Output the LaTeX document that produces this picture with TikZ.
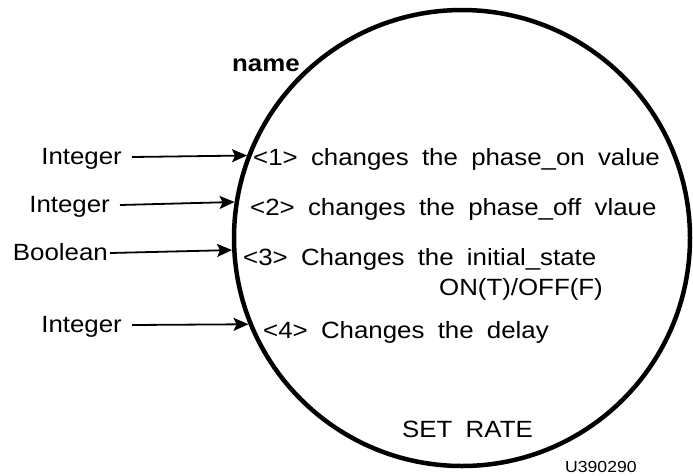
\documentclass[tikz,border=0pt]{standalone}
\usepackage{fontspec}
\setmainfont[FakeStretch=1.1,WordSpace=1.85]{Liberation Sans}
\newfontfamily\namefont[FakeStretch=1.1]{Liberation Sans Bold}
\usetikzlibrary{arrows.meta}
\begin{document}
\begin{tikzpicture}[x=1pt,y=-1pt,
  txt/.style={inner sep=0pt, anchor=base west, font=\fontsize{23.5}{27}\selectfont},
  lbl/.style={anchor=east, inner xsep=10pt, inner ysep=0pt, text height=14pt, text depth=0pt, font=\fontsize{23.5}{27}\selectfont},
  inarrow/.style={line width=1.8pt, -{Stealth[length=15pt,width=13pt,inset=3pt]}}]
\useasboundingbox (0,0) rectangle (693,475);
\node[draw, circle, line width=4.5pt, minimum size=456pt, inner sep=0pt] (c) at (462,238) {};
\node[txt, font=\fontsize{23.5}{27}\namefont] (name) at (232,71) {name};
\node[txt] (t1) at (253,165) {<1> changes the phase\_on value};
\node[txt] (t2) at (250,215) {<2> changes the phase\_off vlaue};
\node[txt] (t3) at (243,265) {<3> Changes the initial\_state};
\node[txt, anchor=base east] (t3b) at (603,295) {ON(T)/OFF(F)};
\node[txt] (t4) at (263,338) {<4> Changes the delay};
\node[txt] (sr) at (402,437) {SET RATE};
\node[txt, font=\fontsize{16}{19}\selectfont] (id) at (565,472) {U390290};
\node[lbl] (l1) at (132,157) {Integer};
\node[lbl] (l2) at (120,205) {Integer};
\node[lbl, inner xsep=2pt] (l3) at (110,253) {Boolean};
\node[lbl] (l4) at (132,325) {Integer};
\coordinate (e1) at (c.159.4);
\coordinate (e2) at (c.171.75);
\coordinate (e3) at (c.183.74);
\coordinate (e4) at (c.202.2);
\draw[inarrow] (l1.east) -- (e1);
\draw[inarrow] (l2.east) -- (e2);
\draw[inarrow] (l3.east) -- (e3);
\draw[inarrow] (l4.east) -- (e4);
\end{tikzpicture}
\end{document}
